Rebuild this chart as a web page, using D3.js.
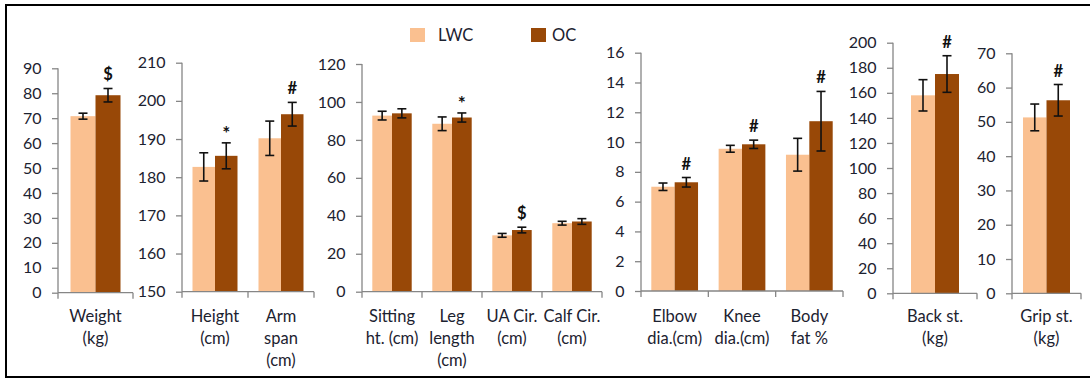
<!DOCTYPE html>
<html>
<head>
<meta charset="utf-8">
<script src="https://cdn.jsdelivr.net/npm/d3@7"></script>
<style>
  body { margin: 0; background: #fff; }
  text { font-family: Lato, "Open Sans", sans-serif; fill: #1c2230; }
</style>
</head>
<body>
<div id="chart"></div>
<script>
// Data
const categories = [
    ["Weight", "(kg)"], ["Height", "(cm)"], ["Arm", "span", "(cm)"],
    ["Sitting", "ht. (cm)"], ["Leg", "length", "(cm)"], ["UA Cir.", "(cm)"], ["Calf Cir.", "(cm)"],
    ["Elbow", "dia.(cm)"], ["Knee", "dia.(cm)"], ["Body", "fat %"],
    ["Back st.", "(kg)"], ["Grip st.", "(kg)"]
];
const series = ["LWC", "OC"];
const lwcMean = [70.8, 182.7, 190.2, 92.8, 88.5, 29.7, 36.1, 7.0, 9.55, 9.15, 158, 51.3];
const lwcSD   = [1.2, 3.7, 4.5, 2.3, 3.6, 1.0, 1.0, 0.25, 0.23, 1.1, 12.5, 3.9];
const ocMean  = [79.2, 185.6, 196.5, 94.0, 91.8, 32.5, 37.0, 7.3, 9.85, 11.4, 175, 56.3];
const ocSD    = [2.7, 3.4, 3.1, 2.4, 2.4, 1.5, 1.5, 0.32, 0.28, 2.0, 14.6, 4.6];
const marks   = ["$", "*", "#", "", "*", "$", "", "#", "#", "#", "#", "#"];

// which categories go into which panel, and each panel's y axis
const panelCats = [[0], [1, 2], [3, 4, 5, 6], [7, 8, 9], [10], [11]];
const yDomains = [[0, 90], [150, 210], [0, 120], [0, 16], [0, 200], [0, 70]];
const yTicks = [
    [0, 10, 20, 30, 40, 50, 60, 70, 80, 90],
    [150, 160, 170, 180, 190, 200, 210],
    [0, 20, 40, 60, 80, 100, 120],
    [0, 2, 4, 6, 8, 10, 12, 14, 16],
    [0, 20, 40, 60, 80, 100, 120, 140, 160, 180, 200],
    [0, 10, 20, 30, 40, 50, 60, 70]
];

// panel boxes in pixels: left, right, top, bottom, bar gap inside each band
const boxes = [
    { x0: 58, x1: 133, top: 68.3, bottom: 292.7, gap: 12.5 },
    { x0: 182, x1: 314, top: 62.7, bottom: 291.7, gap: 10.5 },
    { x0: 362, x1: 602, top: 64, bottom: 291.7, gap: 10.3 },
    { x0: 641, x1: 843, top: 52.7, bottom: 291, gap: 10.3 },
    { x0: 893, x1: 977, top: 42.7, bottom: 293.3, gap: 18 },
    { x0: 1012, x1: 1081, top: 53.3, bottom: 293.3, gap: 11 }
];

const colors = { LWC: "#fac090", OC: "#984807" };
const axisColor = "#868686";

const svg = d3.select("#chart")
    .append("svg")
    .attr("width", 1090)
    .attr("height", 379);

// outer frame
svg.append("rect")
    .attr("x", 6)
    .attr("y", 5)
    .attr("width", 1100)
    .attr("height", 372)
    .attr("fill", "none")
    .attr("stroke", "#000")
    .attr("stroke-width", 2);

panelCats.forEach((cats, p) => {
    const b = boxes[p];
    const g = svg.append("g");

    const x = d3.scaleBand()
        .domain(cats)
        .range([b.x0, b.x1]);

    const xs = d3.scaleBand()
        .domain(series)
        .range([b.gap, x.bandwidth() - b.gap]);

    const y = d3.scaleLinear()
        .domain(yDomains[p])
        .range([b.bottom, b.top]);

    const rows = cats.flatMap(i => [
        { i, s: "LWC", m: lwcMean[i], sd: lwcSD[i] },
        { i, s: "OC", m: ocMean[i], sd: ocSD[i] }
    ]);

    // bars
    g.selectAll("rect.bar")
        .data(rows)
        .enter()
        .append("rect")
        .attr("class", "bar")
        .attr("x", d => x(d.i) + xs(d.s))
        .attr("y", d => y(d.m))
        .attr("width", xs.bandwidth())
        .attr("height", d => y(yDomains[p][0]) - y(d.m))
        .attr("fill", d => colors[d.s]);

    // error bars
    const eb = g.selectAll("g.err")
        .data(rows)
        .enter()
        .append("g")
        .attr("stroke", "#111")
        .attr("stroke-width", 1.6);
    const cx = d => x(d.i) + xs(d.s) + xs.bandwidth() / 2;
    eb.append("line")
        .attr("x1", cx).attr("x2", cx)
        .attr("y1", d => y(d.m + d.sd)).attr("y2", d => y(d.m - d.sd));
    eb.append("line")
        .attr("x1", d => cx(d) - 4.5).attr("x2", d => cx(d) + 4.5)
        .attr("y1", d => y(d.m + d.sd)).attr("y2", d => y(d.m + d.sd));
    eb.append("line")
        .attr("x1", d => cx(d) - 4.5).attr("x2", d => cx(d) + 4.5)
        .attr("y1", d => y(d.m - d.sd)).attr("y2", d => y(d.m - d.sd));

    // significance marks above OC
    g.selectAll("text.mark")
        .data(rows.filter(d => d.s === "OC" && marks[d.i]))
        .enter()
        .append("text")
        .attr("x", cx)
        .attr("y", d => y(d.m + d.sd) - (marks[d.i] === "*" ? 3 : 8))
        .attr("text-anchor", "middle")
        .style("font-size", d => marks[d.i] === "*" ? "19px" : "16.5px")
        .style("font-weight", "bold")
        .style("fill", "#111")
        .text(d => marks[d.i]);

    // y axis
    const ya = g.append("g")
        .attr("transform", `translate(${b.x0},0)`)
        .call(d3.axisLeft(y).tickValues(yTicks[p]).tickSize(6).tickPadding(10.5));
    ya.select(".domain").attr("stroke", axisColor).attr("stroke-width", 1.3)
        .attr("d", `M0,${b.top}V${b.bottom}`);
    ya.selectAll(".tick line").attr("stroke", axisColor).attr("stroke-width", 1.3);
    ya.selectAll(".tick text")
        .style("font-size", "16px")
        .style("font-family", "Lato, 'Open Sans', sans-serif")
        .style("fill", "#1c2230");

    // x axis with ticks at category boundaries
    const xa = g.append("g");
    xa.append("line")
        .attr("x1", b.x0).attr("x2", b.x1)
        .attr("y1", b.bottom).attr("y2", b.bottom)
        .attr("stroke", axisColor).attr("stroke-width", 1.3);
    const bounds = cats.map(c => x(c)).concat([b.x1]);
    xa.selectAll("line.tk")
        .data(bounds)
        .enter()
        .append("line")
        .attr("x1", d => d).attr("x2", d => d)
        .attr("y1", b.bottom).attr("y2", b.bottom + 6)
        .attr("stroke", axisColor).attr("stroke-width", 1.3);

    // category labels
    const lab = g.selectAll("text.cat")
        .data(cats)
        .enter()
        .append("text")
        .attr("text-anchor", "middle")
        .style("font-size", "16.5px");
    lab.selectAll("tspan")
        .data(c => categories[c].map(t => ({ c, t })))
        .enter()
        .append("tspan")
        .attr("x", d => x(d.c) + x.bandwidth() / 2)
        .attr("y", (d, k) => 322 + k * 22)
        .text(d => d.t);
});

// legend
const legend = svg.append("g");
const lx = d3.scaleOrdinal().domain(series).range([410, 531]);
legend.selectAll("rect")
    .data(series)
    .enter()
    .append("rect")
    .attr("x", d => lx(d))
    .attr("y", 28)
    .attr("width", 15)
    .attr("height", 14)
    .attr("fill", d => colors[d]);
legend.selectAll("text")
    .data(series)
    .enter()
    .append("text")
    .attr("x", d => lx(d) + (d === "LWC" ? 28 : 21))
    .attr("y", 41)
    .style("font-size", "16.5px")
    .text(d => d);
</script>
</body>
</html>
